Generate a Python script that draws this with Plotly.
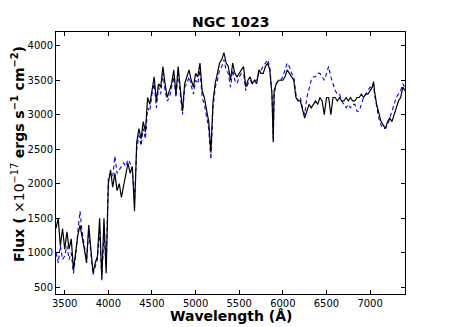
import numpy as np
import plotly.graph_objects as go

# wavelength grid (Angstrom), with extra samples at the Na D and 7040 features
wavelength = sorted(list(range(3400, 7401, 25)) + [5890, 7040])

# black solid spectrum
flux_black = [
    1350, 1500, 1100, 1350, 1050, 1300, 1050, 1200, 750, 1000,
    1250, 1400, 1250, 1050, 850, 1400, 1050, 700, 850, 950,
    1500, 620, 1500, 700, 2000, 2200, 1950, 2150, 1900, 2000,
    1800, 1950, 2100, 2300, 2150, 2250, 1600, 2600, 2800, 2650,
    2900, 2750, 3250, 3150, 3350, 3550, 3200, 3450, 3400, 3700,
    3450, 3250, 3350, 3450, 3650, 3300, 3700, 3350, 3050, 3450,
    3550, 3650, 3500, 3400, 3600, 3550, 3750, 3350, 3250, 3100,
    2900, 2450, 3200, 3450, 3600, 3750, 3800, 3900, 3750, 3700,
    3500, 3750, 3600, 3550, 3600, 3650, 3700, 3400, 3500, 3550,
    3450, 3500, 3450, 3650, 3600, 3600, 3700, 3750, 3650, 3300, 2600,
    3350, 3450, 3500, 3500, 3500, 3550, 3650, 3600, 3550, 3500,
    3250, 3200, 3200, 3050, 2950, 3050, 3150, 3100, 3150, 3200,
    3150, 3250, 3200, 3000, 3250, 3250, 3000, 3250, 3250, 3200,
    3250, 3200, 3200, 3250, 3200, 3250, 3200, 3200, 3250, 3250,
    3300, 3250, 3300, 3300, 3350, 3400, 3480, 3350, 3150, 3000,
    2900, 2850, 2800, 2900, 2950, 2900, 3000, 3100, 3200, 3250,
    3400, 3350,
]

# blue dashed spectrum
flux_blue = [
    1000, 850, 1100, 900, 950, 1100, 900, 1000, 700, 950,
    1300, 1600, 1300, 1100, 900, 1300, 950, 680, 800, 900,
    1350, 600, 1300, 800, 2100, 2150, 2100, 2400, 2150, 2200,
    2250, 2300, 2250, 2350, 2300, 2200, 1750, 2500, 2700, 2550,
    2800, 2650, 3100, 3050, 3300, 3450, 3100, 3400, 3300, 3600,
    3350, 3200, 3250, 3400, 3550, 3250, 3600, 3300, 3000, 3400,
    3450, 3550, 3400, 3300, 3500, 3450, 3650, 3250, 3150, 3000,
    2800, 2350, 3100, 3400, 3500, 3650, 3700, 3800, 3650, 3600,
    3400, 3650, 3500, 3450, 3550, 3600, 3600, 3350, 3450, 3500,
    3450, 3500, 3500, 3600, 3650, 3700, 3750, 3800, 3700, 3300, 2650,
    3300, 3450, 3500, 3500, 3550, 3650, 3750, 3700, 3600, 3550,
    3300, 3200, 3250, 3100, 3000, 3250, 3400, 3500, 3550, 3550,
    3600, 3600, 3550, 3500, 3600, 3700, 3550, 3450, 3350, 3300,
    3300, 3200, 3150, 3100, 3150, 3100, 3150, 3150, 3050, 3050,
    3150, 3250, 3300, 3350, 3400, 3400, 3450, 3300, 3100, 2950,
    2850, 2800, 2800, 2850, 2950, 3050, 3150, 3250, 3300, 3350,
    3450, 3400,
]

x_ticks = [3500, 4000, 4500, 5000, 5500, 6000, 6500, 7000]
y_ticks = [500, 1000, 1500, 2000, 2500, 3000, 3500, 4000]

fig = go.Figure()

fig.add_trace(go.Scatter(
    x=wavelength, y=flux_blue, mode='lines',
    line=dict(color='#0000ff', width=1.1, dash='4px,3px'),
    showlegend=False
))
fig.add_trace(go.Scatter(
    x=wavelength, y=flux_black, mode='lines',
    line=dict(color='black', width=1.2),
    showlegend=False
))

axis_style = dict(
    showline=True, linecolor='black', linewidth=1, mirror='ticks',
    ticks='inside', ticklen=4, tickcolor='black', showgrid=False, zeroline=False,
    tickfont=dict(family='DejaVu Sans', size=10, color='black'),
)

# page body adds ~8px offset, so margins are shifted up/left by that much
fig.update_layout(
    width=450, height=327,
    margin=dict(l=48, r=53, t=24, b=41),
    plot_bgcolor='white', paper_bgcolor='white',
    title=dict(text='<b>NGC 1023</b>', x=0.495, xanchor='center', y=0.957, yanchor='middle',
               font=dict(family='DejaVu Sans', size=14, color='black')),
    xaxis=dict(range=[3400, 7400], tickvals=x_ticks, **axis_style),
    yaxis=dict(range=[400, 4200], tickvals=y_ticks, **axis_style),
)

fig.add_annotation(
    text='<b>Wavelength (Å)</b>', xref='paper', yref='paper', x=0.5, y=-0.084,
    xanchor='center', yanchor='middle', showarrow=False,
    font=dict(family='DejaVu Sans', size=14, color='black')
)
fig.add_annotation(
    text='<b>Flux (</b> ×10<sup>−17</sup> <b>ergs s<sup>−1</sup> cm<sup>−2</sup>)</b>',
    xref='paper', yref='paper', x=-0.109, y=0.534, textangle=-90,
    xanchor='center', yanchor='middle', showarrow=False,
    font=dict(family='DejaVu Sans', size=14, color='black')
)

fig.write_html("out.html")
